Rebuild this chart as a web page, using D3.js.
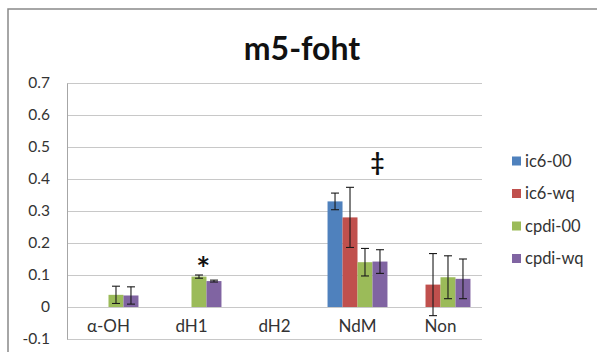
<!DOCTYPE html>
<html>
<head>
<meta charset="utf-8">
<script src="https://cdn.jsdelivr.net/npm/d3@7"></script>
<style>
  html, body { margin: 0; padding: 0; background: #fff; }
  svg { display: block; font-family: Lato, "Open Sans", sans-serif; }
</style>
</head>
<body>
<svg id="chart" width="597" height="352"></svg>
<script>
// Categories, series names and values (means with ± error)
const categories = ["α-OH", "dH1", "dH2", "NdM", "Non"];
const seriesNames = ["ic6-00", "ic6-wq", "cpdi-00", "cpdi-wq"];
const seriesColors = ["#4F81BD", "#C0504D", "#9BBB59", "#8064A2"];

const ic600 = [null, null, null, 0.330, null];
const ic6wq = [null, null, null, 0.280, 0.070];
const cpdi00 = [0.038, 0.095, null, 0.140, 0.093];
const cpdiwq = [0.036, 0.081, null, 0.142, 0.088];

const ic600Err = [null, null, null, 0.026, null];
const ic6wqErr = [null, null, null, 0.094, 0.097];
const cpdi00Err = [0.027, 0.005, null, 0.043, 0.067];
const cpdiwqErr = [0.027, 0.003, null, 0.037, 0.062];

const yTicks = [-0.1, 0, 0.1, 0.2, 0.3, 0.4, 0.5, 0.6, 0.7];
const yTickLabels = ["-0.1", "0", "0.1", "0.2", "0.3", "0.4", "0.5", "0.6", "0.7"];

// Significance marks: [category, series, symbol]
const marks = [["dH1", "cpdi-00", "*"], ["NdM", "cpdi-wq", "‡"]];

const seriesValues = [ic600, ic6wq, cpdi00, cpdiwq];
const seriesErrors = [ic600Err, ic6wqErr, cpdi00Err, cpdiwqErr];

const svg = d3.select("#chart");

// Chart frame
svg.append("rect")
  .attr("x", 8).attr("y", 9)
  .attr("width", 620).attr("height", 400)
  .attr("fill", "#fff")
  .attr("stroke", "#898989").attr("stroke-width", 1.5);

const plot = { left: 67, right: 482, top: 83, bottom: 339 };

const y = d3.scaleLinear().domain([-0.1, 0.7]).range([plot.bottom, plot.top]);
const x = d3.scaleBand().domain(categories).range([plot.left, plot.right]).padding(0);
const xs = d3.scaleBand().domain(seriesNames)
  .range([x.bandwidth() * 0.139, x.bandwidth() * 0.861]).padding(0);

// Horizontal gridlines
svg.append("g")
  .attr("transform", `translate(${plot.left},0)`)
  .call(d3.axisRight(y).tickValues(yTicks).tickSize(plot.right - plot.left).tickFormat(""))
  .call(g => g.select(".domain").remove())
  .call(g => g.selectAll("line").attr("stroke", "#C8C8C8").attr("stroke-width", 1));

// Vertical value axis with labels
svg.append("g")
  .attr("transform", `translate(${plot.left},0)`)
  .call(d3.axisLeft(y).tickValues(yTicks).tickSize(0).tickPadding(17)
    .tickFormat((d, i) => yTickLabels[i]))
  .call(g => g.select(".domain").attr("stroke", "#A6A6A6").attr("stroke-width", 1))
  .call(g => g.selectAll("text").attr("fill", "#333")
    .style("font-size", "15.5px").style("font-family", "Lato, sans-serif"));

// Bars
const group = svg.append("g");
seriesNames.forEach((name, si) => {
  const vals = seriesValues[si];
  categories.forEach((cat, ci) => {
    const v = vals[ci];
    if (v == null) return;
    group.append("rect")
      .attr("x", x(cat) + xs(name))
      .attr("y", y(Math.max(v, 0)))
      .attr("width", xs.bandwidth())
      .attr("height", Math.abs(y(v) - y(0)))
      .attr("fill", seriesColors[si]);
  });
});

// Error bars
const errG = svg.append("g").attr("stroke", "#1a1a1a").attr("stroke-width", 1.1);
seriesNames.forEach((name, si) => {
  categories.forEach((cat, ci) => {
    const v = seriesValues[si][ci];
    const e = seriesErrors[si][ci];
    if (v == null || e == null) return;
    const cx = x(cat) + xs(name) + xs.bandwidth() / 2;
    const y1 = y(v + e), y2 = y(v - e);
    errG.append("line").attr("x1", cx).attr("x2", cx).attr("y1", y1).attr("y2", y2);
    errG.append("line").attr("x1", cx - 4).attr("x2", cx + 4).attr("y1", y1).attr("y2", y1);
    errG.append("line").attr("x1", cx - 4).attr("x2", cx + 4).attr("y1", y2).attr("y2", y2);
  });
});

// Category labels
svg.append("g").selectAll("text")
  .data(categories).join("text")
  .attr("x", d => x(d) + x.bandwidth() / 2)
  .attr("y", 332)
  .attr("text-anchor", "middle")
  .attr("fill", "#333")
  .style("font-size", "17px")
  .text(d => d);

// Significance symbols above the error bars
marks.forEach(([cat, name, sym]) => {
  const si = seriesNames.indexOf(name);
  const ci = categories.indexOf(cat);
  const top = seriesValues[si][ci] + seriesErrors[si][ci];
  const star = sym === "*";
  svg.append("text")
    .attr("x", x(cat) + xs(name) + xs.bandwidth() * (star ? 0.78 : 0.33))
    .attr("y", y(top) - (star ? -5.5 : 79))
    .attr("text-anchor", "middle")
    .attr("fill", "#111")
    .style("font-size", star ? "33px" : "24px")
    .style("font-weight", "bold")
    .text(sym);
});

// Title
svg.append("text")
  .attr("x", 302).attr("y", 60)
  .attr("text-anchor", "middle")
  .attr("fill", "#111")
  .style("font-size", "32px")
  .style("font-weight", "bold")
  .text("m5-foht");

// Legend
const legend = svg.append("g");
seriesNames.forEach((name, i) => {
  const ly = 161 + i * 32.5;
  legend.append("rect").attr("x", 512).attr("y", ly - 4.5)
    .attr("width", 9).attr("height", 9).attr("fill", seriesColors[i]);
  legend.append("text").attr("x", 525).attr("y", ly + 5.5)
    .attr("fill", "#333").style("font-size", "16.5px").text(name);
});
</script>
</body>
</html>
